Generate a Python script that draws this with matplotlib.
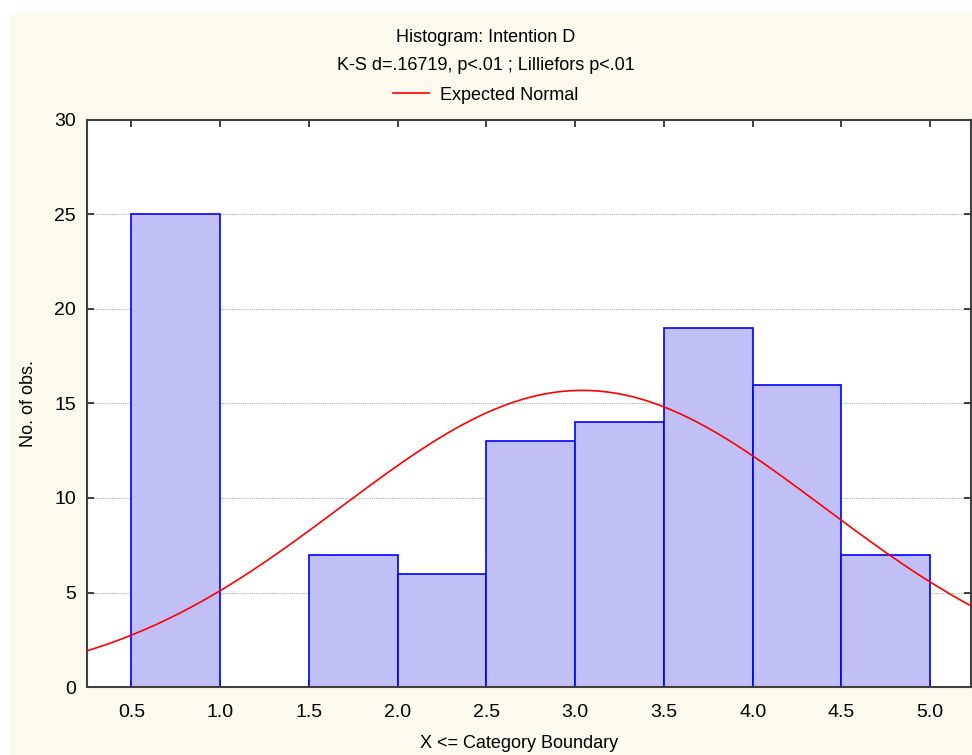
import numpy as np
import matplotlib.pyplot as plt
from matplotlib.patches import Rectangle

# podatki histograma (leve meje razredov in frekvence)
meje_levo = [0.5, 1.0, 1.5, 2.0, 2.5, 3.0, 3.5, 4.0, 4.5]
frekvence = [25, 0, 7, 6, 13, 14, 19, 16, 7]
sirina = 0.5

# parametri pricakovane normalne porazdelitve
povprecje = 3.04
std_odklon = 1.36
n_obs = sum(frekvence)

x_oznake = [0.5, 1.0, 1.5, 2.0, 2.5, 3.0, 3.5, 4.0, 4.5, 5.0]
y_oznake = [0, 5, 10, 15, 20, 25, 30]

plt.rcParams['font.family'] = ['Liberation Sans', 'DejaVu Sans']

fig = plt.figure(figsize=(9.72, 7.55), dpi=100, facecolor='white')
# krem ozadje okvirja
fig.patches.append(Rectangle((10 / 972, 0), 1, 1 - 13 / 755, transform=fig.transFigure,
                             facecolor='#fdf9ee', edgecolor='none', zorder=-10))

ax = fig.add_axes([87 / 972, 68 / 755, 884 / 972, 567 / 755])
ax.set_facecolor('white')

ax.bar(meje_levo, frekvence, width=sirina, align='edge', color='#c0c0f6',
       edgecolor='#0000ff', linewidth=1.2, zorder=2)

xs = np.linspace(0.25, 5.25, 300)
ys = n_obs * sirina / (std_odklon * np.sqrt(2 * np.pi)) * np.exp(-0.5 * ((xs - povprecje) / std_odklon) ** 2)
linija, = ax.plot(xs, ys, color='#ff0000', linewidth=1.2, zorder=3)

ax.set_xlim(0.25, 5.23)
ax.set_ylim(0, 30)
ax.set_xticks(x_oznake)
ax.set_xticklabels([f"{v:.1f}" for v in x_oznake])
ax.set_yticks(y_oznake)
ax.tick_params(direction='in', top=True, right=True, length=5, width=1.2,
               labelsize=14, pad=12, color='#202020')
ax.tick_params(axis='y', pad=8)

for y in y_oznake[1:-1]:
    ax.axhline(y, color='#b0b0b0', linestyle=(0, (1, 1)), linewidth=0.8, zorder=1)

for s in ax.spines.values():
    s.set_color('#404040')
    s.set_linewidth(1.5)

ax.set_ylabel("No. of obs.", fontsize=13, labelpad=12)

fig.text(0.5, 1 - 38 / 755, "Histogram: Intention D", ha='center', va='center', fontsize=13)
fig.text(0.5, 1 - 66 / 755, "K-S d=.16719, p<.01 ; Lilliefors p<.01", ha='center', va='center', fontsize=13)
fig.text(519 / 972, 1 - 744 / 755, "X <= Category Boundary", ha='center', va='center', fontsize=13)
fig.legend([linija], ["Expected Normal"], loc='center', bbox_to_anchor=(0.5, 1 - 95 / 755),
           frameon=False, fontsize=13, handlelength=2.0, handletextpad=0.6)

fig.savefig("out.png", dpi=100)
